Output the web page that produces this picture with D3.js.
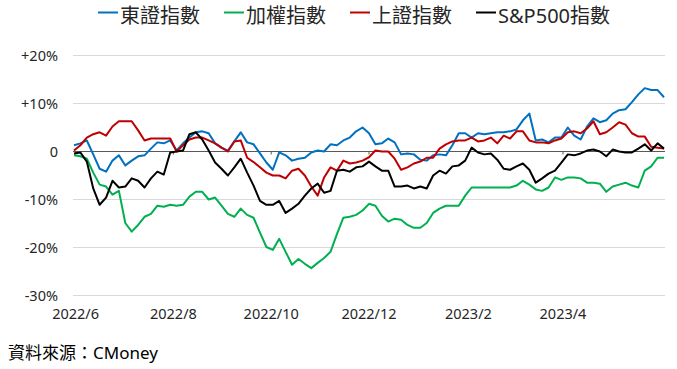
<!DOCTYPE html>
<html>
<head>
<meta charset="utf-8">
<script src="https://cdn.jsdelivr.net/npm/d3@7/dist/d3.min.js"></script>
<style>
  html, body { margin: 0; padding: 0; background: #fff; }
  svg { display: block; font-family: "Noto Sans", "Noto Sans CJK TC", sans-serif; }
</style>
</head>
<body>
<div id="chart"></div>
<script>
// trading dates (sampled every 4 days)
const dates = [
  '2022-05-31','2022-06-04','2022-06-08','2022-06-12','2022-06-16','2022-06-20','2022-06-24','2022-06-28','2022-07-02','2022-07-06',
  '2022-07-10','2022-07-14','2022-07-18','2022-07-22','2022-07-26','2022-07-30','2022-08-03','2022-08-07','2022-08-11','2022-08-15',
  '2022-08-19','2022-08-23','2022-08-27','2022-08-31','2022-09-04','2022-09-08','2022-09-12','2022-09-16','2022-09-20','2022-09-24',
  '2022-09-28','2022-10-02','2022-10-06','2022-10-10','2022-10-14','2022-10-18','2022-10-22','2022-10-26','2022-10-30','2022-11-03',
  '2022-11-07','2022-11-11','2022-11-15','2022-11-19','2022-11-23','2022-11-27','2022-12-01','2022-12-05','2022-12-09','2022-12-13',
  '2022-12-17','2022-12-21','2022-12-25','2022-12-29','2023-01-02','2023-01-06','2023-01-10','2023-01-14','2023-01-18','2023-01-22',
  '2023-01-26','2023-01-30','2023-02-03','2023-02-07','2023-02-11','2023-02-15','2023-02-19','2023-02-23','2023-02-27','2023-03-03',
  '2023-03-07','2023-03-11','2023-03-15','2023-03-19','2023-03-23','2023-03-27','2023-03-31','2023-04-04','2023-04-08','2023-04-12',
  '2023-04-16','2023-04-20','2023-04-24','2023-04-28','2023-05-02','2023-05-06','2023-05-10','2023-05-14','2023-05-18','2023-05-22',
  '2023-05-26','2023-05-30','2023-06-03'
];

// 東證指數 (%)
const topixValues = [
  1.3, 1.7, 2.3, -0.6, -3.6, -4.2, -1.9, -0.8, -2.9, -1.9,
  -1.0, -0.8, 0.6, 1.9, 1.7, 2.3, 0.2, 1.7, 2.9, 4.0,
  4.2, 3.8, 1.7, 0.8, 0.2, 2.1, 4.0, 1.9, 1.5, -0.4,
  -2.3, -3.8, -0.2, -0.8, -1.9, -1.5, -1.3, -0.2, 0.2, 0.0,
  1.5, 1.3, 2.3, 2.9, 4.2, 5.0, 3.8, 1.5, 1.7, 2.7,
  1.9, -0.6, -0.4, -0.6, -1.7, -1.9, -0.8, -0.6, -0.8, 1.3,
  3.8, 3.8, 2.9, 3.8, 3.6, 3.8, 4.0, 4.0, 4.2, 4.6,
  6.5, 7.9, 2.3, 2.5, 1.9, 2.9, 2.9, 5.0, 3.3, 2.5,
  5.2, 6.9, 6.1, 6.5, 7.9, 8.6, 8.8, 10.3, 11.9, 13.2,
  12.8, 12.8, 11.3
];

// 加權指數 (%)
const taiexValues = [
  -0.8, -1.0, -1.5, -4.4, -6.9, -7.3, -9.0, -8.2, -14.9, -16.7,
  -15.3, -13.6, -13.0, -11.3, -11.5, -11.1, -11.3, -11.1, -9.4, -8.4,
  -8.4, -10.0, -9.6, -11.3, -13.0, -13.6, -11.9, -13.2, -13.8, -16.9,
  -19.9, -20.5, -18.2, -20.9, -23.6, -22.4, -23.4, -24.3, -23.2, -22.2,
  -20.9, -17.2, -13.8, -13.6, -13.2, -12.3, -10.9, -11.3, -13.4, -14.6,
  -14.0, -14.2, -15.3, -15.9, -15.9, -14.9, -12.8, -11.9, -11.3, -11.3,
  -11.3, -9.2, -7.5, -7.5, -7.5, -7.5, -7.5, -7.5, -7.5, -7.1,
  -6.1, -6.9, -7.9, -8.2, -7.5, -5.4, -5.9, -5.4, -5.4, -5.6,
  -6.5, -6.5, -6.7, -8.4, -7.3, -6.9, -6.5, -7.1, -7.5, -4.0,
  -3.1, -1.3, -1.3
];

// 上證指數 (%)
const sseValues = [
  0.2, 1.3, 2.9, 3.6, 4.0, 3.3, 5.2, 6.3, 6.3, 6.3,
  4.4, 2.3, 2.7, 2.7, 2.7, 2.7, 0.0, 1.3, 2.5, 2.9,
  2.9, 2.3, 1.7, 0.8, 0.0, 2.1, 2.3, -1.3, -2.2, -3.3,
  -4.4, -5.0, -5.0, -5.6, -4.0, -3.6, -5.0, -7.3, -9.2, -5.4,
  -3.3, -4.0, -1.9, -2.5, -2.3, -1.9, -1.2, 0.2, 0.0, 0.0,
  -1.5, -3.8, -3.3, -2.5, -2.1, -1.3, -1.3, 0.6, 1.5, 2.1,
  2.3, 2.3, 2.9, 2.1, 2.3, 2.9, 1.7, 3.3, 2.7, 4.2,
  4.2, 2.3, 1.9, 1.9, 1.7, 2.3, 2.7, 4.0, 4.2, 3.8,
  4.8, 6.3, 3.6, 4.0, 5.0, 6.1, 5.6, 3.8, 3.1, 3.1,
  1.0, 0.8, 0.6
];

// S&P500指數 (%)
const spxValues = [
  -0.4, -0.2, -2.1, -7.7, -11.1, -9.6, -6.1, -7.5, -7.3, -5.6,
  -6.1, -7.5, -5.6, -4.2, -4.8, -0.2, 0.0, 0.2, 3.6, 4.0,
  2.5, 0.2, -2.3, -3.6, -5.0, -3.3, -1.5, -4.4, -7.1, -10.3,
  -11.1, -11.1, -10.3, -12.8, -11.9, -10.9, -9.2, -7.7, -6.7, -8.6,
  -8.2, -4.0, -3.8, -4.2, -3.3, -3.1, -2.1, -3.1, -4.0, -4.0,
  -7.3, -7.3, -7.1, -7.7, -7.3, -7.7, -5.0, -4.0, -4.6, -3.1,
  -2.9, -1.9, 0.8, -0.2, -0.6, -0.4, -1.7, -3.6, -3.8, -3.1,
  -2.5, -3.8, -6.5, -5.6, -4.6, -4.0, -2.3, -0.6, -0.8, -0.4,
  0.2, 0.4, 0.0, -1.0, 0.4, 0.0, -0.2, -0.2, 0.6, 1.5,
  0.2, 1.7, 0.6
];

const seriesNames = ['東證指數', '加權指數', '上證指數', 'S&P500指數'];
const seriesColors = ['#0070C0', '#00B050', '#C00000', '#000000'];
const yTickValues = [20, 10, 0, -10, -20, -30];
const xTickDates = ['2022-06-01', '2022-08-01', '2022-10-01', '2022-12-01', '2023-02-01', '2023-04-01'];
const xTickLabels = ['2022/6', '2022/8', '2022/10', '2022/12', '2023/2', '2023/4'];
const sourceNote = '資料來源：CMoney';

const width = 677;
const height = 369;
const plot = { left: 74, right: 664, top: 55.5, bottom: 295.5, gridLeft: 73, gridRight: 665 };

const parseDate = d3.timeParse('%Y-%m-%d');
const parsedDates = dates.map(parseDate);

const x = d3.scaleTime()
  .domain(d3.extent(parsedDates))
  .range([plot.left, plot.right]);

const y = d3.scaleLinear()
  .domain([-30, 20])
  .range([plot.bottom, plot.top]);

const svg = d3.select('#chart')
  .append('svg')
  .attr('width', width)
  .attr('height', height);

// gridlines
svg.append('g')
  .selectAll('line')
  .data(yTickValues.filter(v => v !== 0))
  .join('line')
  .attr('x1', plot.gridLeft)
  .attr('x2', plot.gridRight)
  .attr('y1', d => y(d))
  .attr('y2', d => y(d))
  .attr('stroke', '#D9D9D9')
  .attr('stroke-width', 1);

// y labels
svg.append('g')
  .selectAll('text')
  .data(yTickValues)
  .join('text')
  .attr('x', 58)
  .attr('y', d => y(d))
  .attr('dy', '0.35em')
  .attr('text-anchor', 'end')
  .attr('font-size', 14.5)
  .attr('fill', '#262626')
  .text(d => d === 0 ? '0' : (d > 0 ? '+' : '') + d + '%');

// zero axis line + small ticks
svg.append('line')
  .attr('x1', plot.gridLeft)
  .attr('x2', plot.gridRight)
  .attr('y1', y(0))
  .attr('y2', y(0))
  .attr('stroke', '#595959')
  .attr('stroke-width', 1);

svg.append('g')
  .selectAll('line')
  .data(xTickDates)
  .join('line')
  .attr('x1', d => x(parseDate(d)))
  .attr('x2', d => x(parseDate(d)))
  .attr('y1', y(0))
  .attr('y2', y(0) + 3)
  .attr('stroke', '#595959')
  .attr('stroke-width', 1);

// x labels
svg.append('g')
  .selectAll('text')
  .data(xTickDates)
  .join('text')
  .attr('x', d => x(parseDate(d)))
  .attr('y', 319)
  .attr('text-anchor', 'middle')
  .attr('font-size', 14.5)
  .attr('fill', '#262626')
  .text((d, i) => xTickLabels[i]);

// series
const allSeries = [topixValues, taiexValues, sseValues, spxValues];
const lineGenerator = d3.line()
  .x((d, i) => x(parsedDates[i]))
  .y(d => y(d));

svg.append('g')
  .selectAll('path')
  .data(allSeries)
  .join('path')
  .attr('d', d => lineGenerator(d))
  .attr('fill', 'none')
  .attr('stroke', (d, i) => seriesColors[i])
  .attr('stroke-width', 2)
  .attr('stroke-linejoin', 'round');

// legend
const legend = svg.append('g').attr('font-size', 20).attr('fill', '#262626');
let legendX = 98;
seriesNames.forEach((name, i) => {
  legend.append('line')
    .attr('x1', legendX)
    .attr('x2', legendX + 20)
    .attr('y1', 12.5)
    .attr('y2', 12.5)
    .attr('stroke', seriesColors[i])
    .attr('stroke-width', 2);
  const label = legend.append('text')
    .attr('x', legendX + 22)
    .attr('y', 23)
    .text(name);
  legendX += 22 + label.node().getComputedTextLength() + 24;
});

// source note
svg.append('text')
  .attr('x', 8)
  .attr('y', 359)
  .attr('font-size', 17)
  .attr('fill', '#000')
  .text(sourceNote);
</script>
</body>
</html>
